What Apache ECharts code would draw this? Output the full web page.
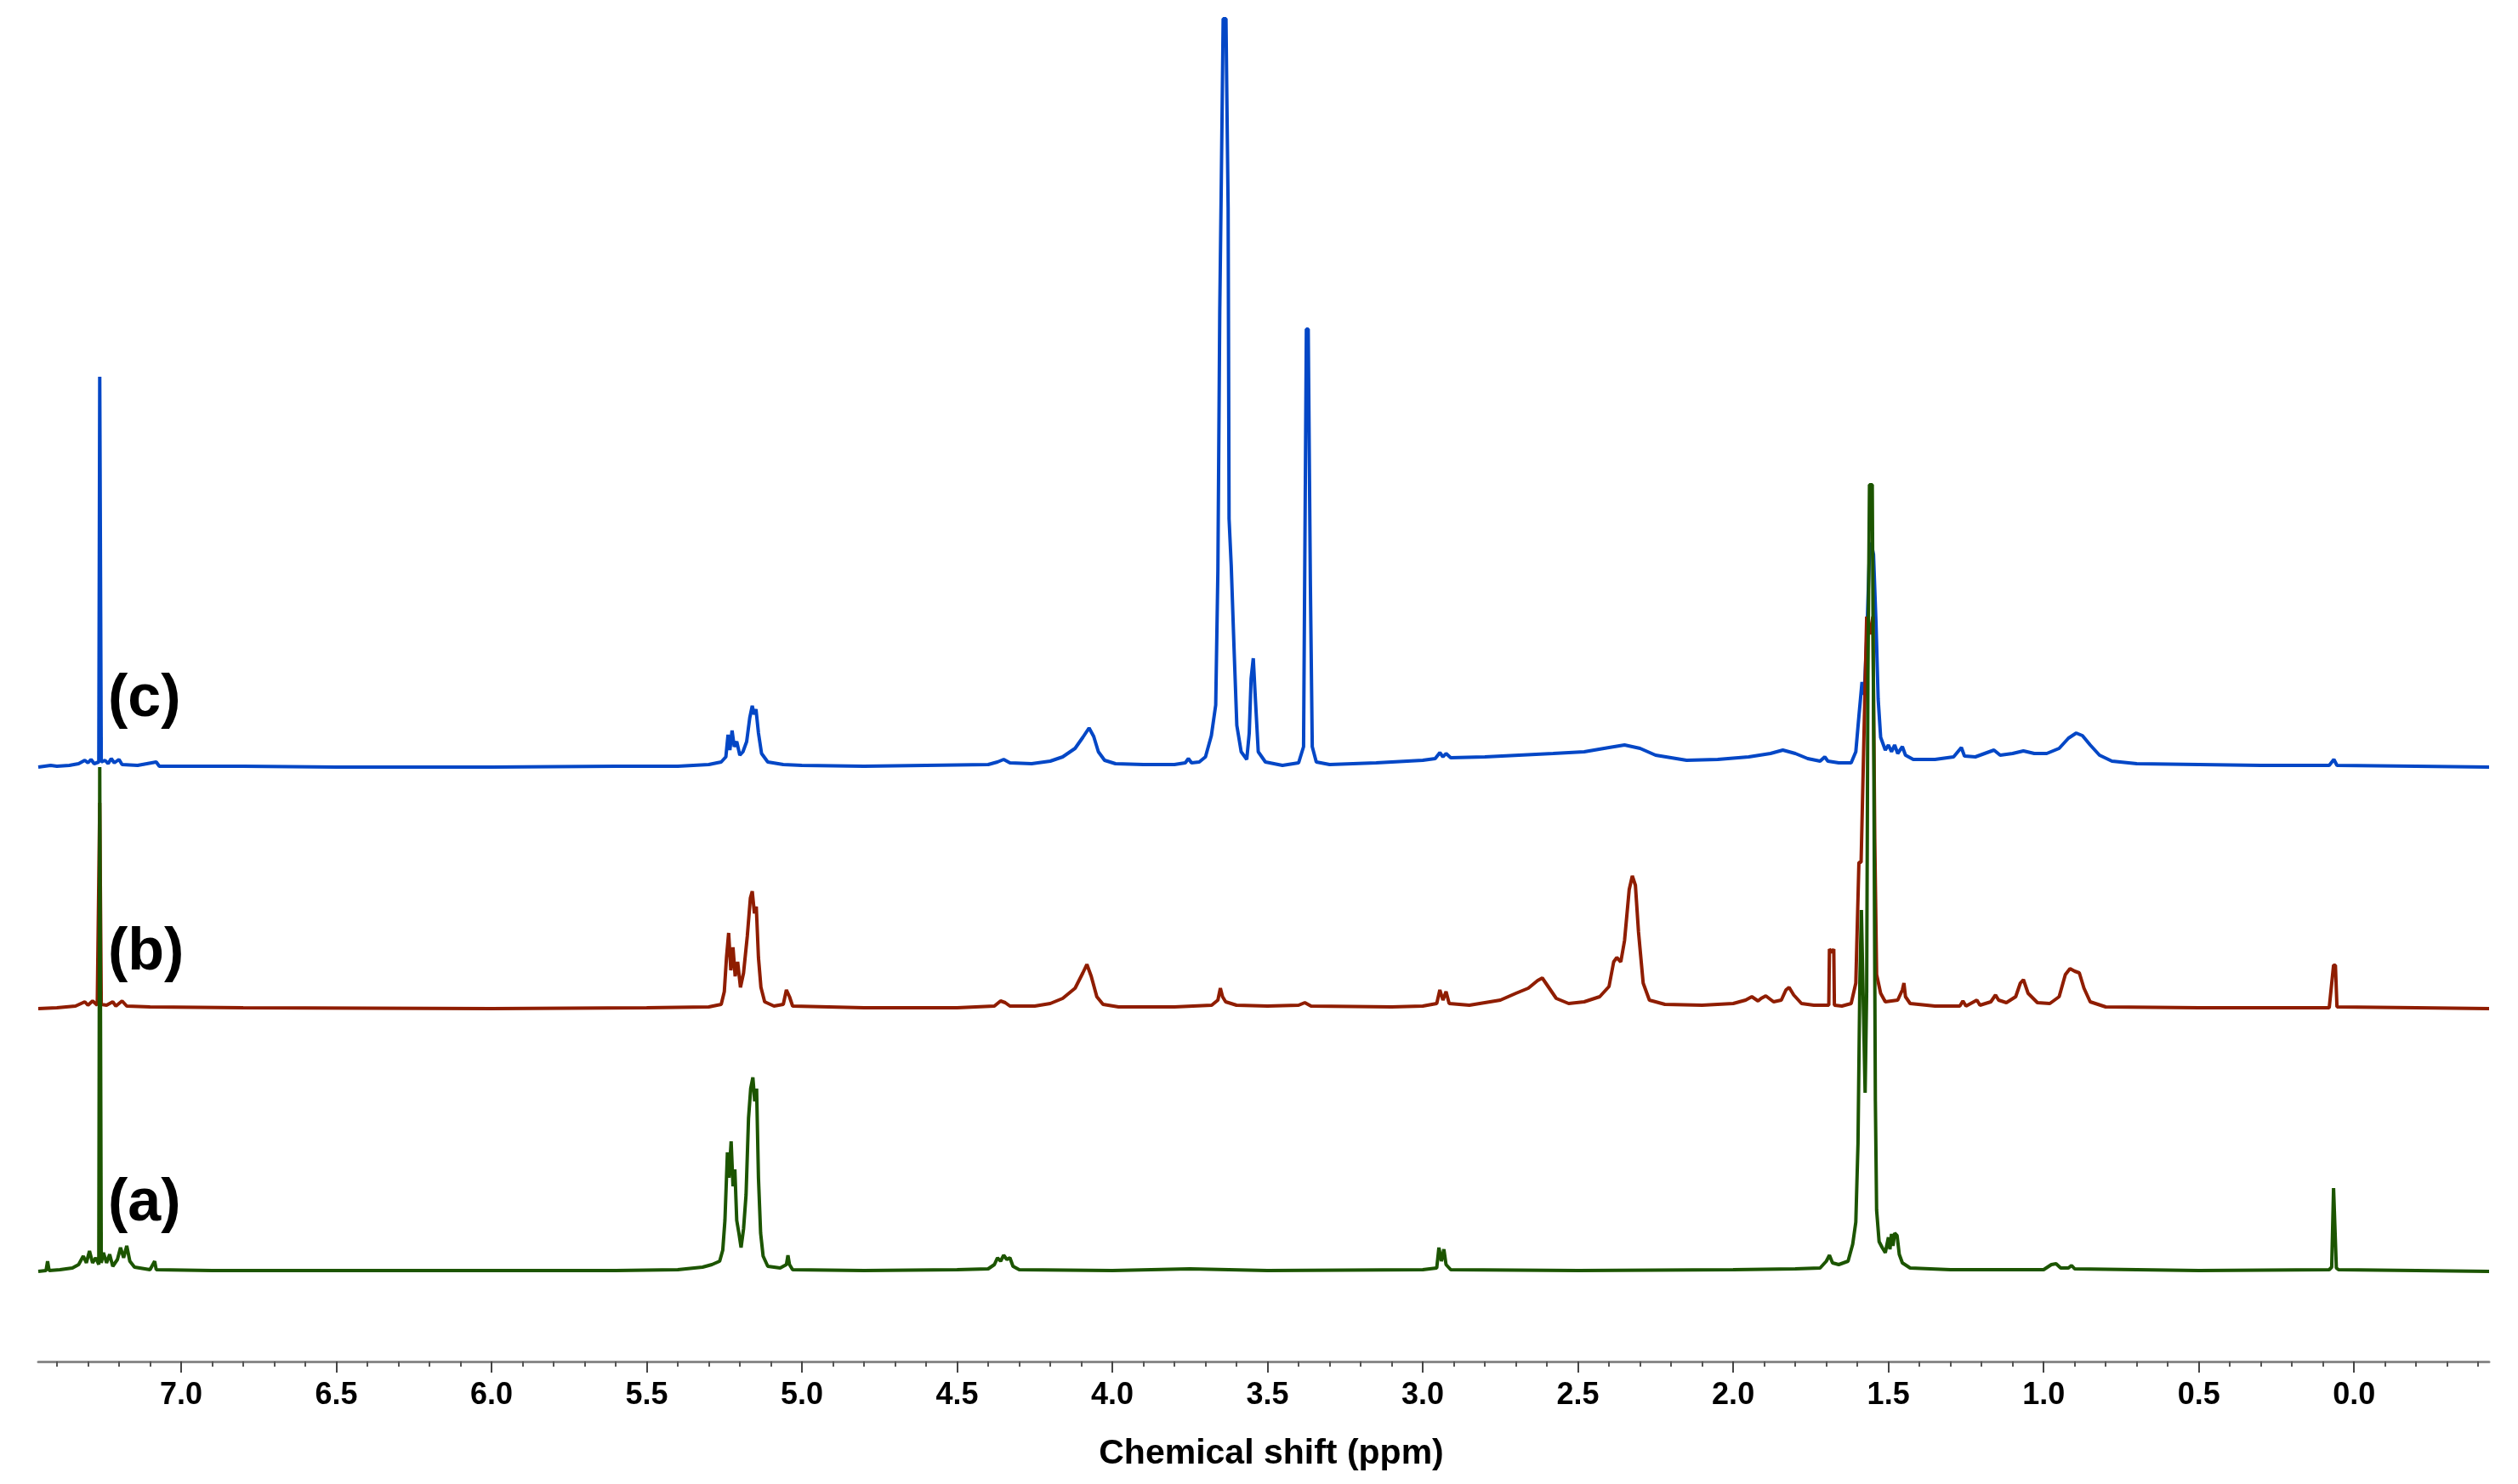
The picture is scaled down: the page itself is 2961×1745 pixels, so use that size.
<!DOCTYPE html>
<html>
<head>
  <meta charset="utf-8">
  <title>1H NMR spectra (a) (b) (c)</title>
  <script src="https://cdn.jsdelivr.net/npm/echarts@6/dist/echarts.min.js"></script>
  <style>
    html, body { margin: 0; padding: 0; background: #fff; }
    #main { width: 2961px; height: 1745px; }
  </style>
</head>
<body>
<div id="main"></div>
<script>
// axis range in ppm (axis is reversed: high ppm on the left)
var ppmLeft = 7.46;
var ppmRight = -0.435;

// major ticks with labels, minor ticks every 0.1 ppm
var majorTicks = [7.0, 6.5, 6.0, 5.5, 5.0, 4.5, 4.0, 3.5, 3.0, 2.5, 2.0, 1.5, 1.0, 0.5, 0.0];
var tickLabels = ['7.0', '6.5', '6.0', '5.5', '5.0', '4.5', '4.0', '3.5', '3.0', '2.5', '2.0', '1.5', '1.0', '0.5', '0.0'];
var minorTicks = [];
for (var k = -4; k <= 74; k++) {
  if (k % 5 !== 0) minorTicks.push(k / 10);
}

// vertical stacking offset of each trace (same units as intensity)
var offsetA = 106;
var offsetB = 415;
var offsetC = 699;

// (c) blue trace: [ppm, intensity]
var traceC = [
  [7.46,0],[7.42,2],[7.40,1],[7.36,2],[7.33,4],[7.31,8],[7.30,5],[7.29,9],[7.28,4],[7.265,6],
  [7.262,459],[7.257,6],[7.245,8],[7.235,4],[7.225,10],[7.215,5],[7.20,9],[7.19,3],[7.14,2],[7.08,6],
  [7.07,1],[6.8,1],[6.5,0],[6.0,0],[5.6,1],[5.4,1],[5.30,3],[5.26,6],[5.245,12],[5.238,38],
  [5.232,20],[5.225,43],[5.218,24],[5.21,30],[5.20,14],[5.19,18],[5.178,30],[5.168,58],[5.16,72],[5.154,62],
  [5.148,68],[5.14,40],[5.13,16],[5.11,6],[5.06,3],[5.0,2],[4.8,1],[4.6,2],[4.40,3],[4.37,6],
  [4.35,9],[4.33,5],[4.26,4],[4.20,7],[4.16,12],[4.12,22],[4.095,35],[4.075,46],[4.06,36],[4.045,18],
  [4.025,8],[3.99,4],[3.90,3],[3.80,3],[3.765,5],[3.755,10],[3.745,5],[3.72,6],[3.70,12],[3.681,37],
  [3.667,73],[3.66,231],[3.654,536],[3.649,688],[3.643,880],[3.634,880],[3.627,658],[3.624,292],[3.617,237],[3.608,140],
  [3.599,49],[3.585,18],[3.567,9],[3.559,40],[3.553,104],[3.546,128],[3.539,79],[3.53,18],[3.507,6],[3.452,2],
  [3.40,5],[3.384,24],[3.375,515],[3.369,515],[3.362,213],[3.356,24],[3.343,6],[3.30,3],[3.15,5],[3.0,8],
  [2.96,10],[2.945,17],[2.935,12],[2.925,16],[2.91,11],[2.80,12],[2.69,14],[2.58,16],[2.48,18],[2.40,23],
  [2.35,26],[2.30,22],[2.25,14],[2.15,8],[2.05,9],[1.95,12],[1.88,16],[1.84,20],[1.80,16],[1.76,10],
  [1.72,7],[1.705,12],[1.695,7],[1.66,5],[1.62,5],[1.605,18],[1.595,60],[1.585,100],[1.578,85],[1.57,150],
  [1.562,240],[1.556,264],[1.548,250],[1.54,170],[1.533,80],[1.525,35],[1.51,20],[1.50,26],[1.49,18],[1.48,26],
  [1.47,16],[1.455,24],[1.445,14],[1.42,9],[1.35,9],[1.29,12],[1.265,23],[1.255,13],[1.22,12],[1.16,20],
  [1.14,14],[1.10,16],[1.065,19],[1.03,16],[0.99,16],[0.95,22],[0.92,34],[0.895,40],[0.875,37],[0.85,26],
  [0.82,14],[0.78,7],[0.70,4],[0.50,3],[0.30,2],[0.08,2],[0.065,9],[0.055,2],[-0.2,1],[-0.435,0]
];

// (b) red trace
var traceB = [
  [7.46,0],[7.40,1],[7.34,3],[7.31,8],[7.30,4],[7.285,9],[7.27,4],[7.262,242],[7.257,5],[7.24,4],
  [7.22,8],[7.21,3],[7.19,9],[7.175,3],[7.10,2],[6.8,1],[6.0,0],[5.5,1],[5.30,2],[5.26,5],
  [5.25,20],[5.243,60],[5.236,89],[5.229,45],[5.222,72],[5.215,38],[5.207,55],[5.198,25],[5.188,42],[5.176,85],
  [5.166,130],[5.16,138],[5.153,112],[5.147,120],[5.14,60],[5.132,25],[5.12,8],[5.09,3],[5.06,5],[5.05,22],
  [5.04,14],[5.03,3],[4.8,1],[4.5,1],[4.38,3],[4.36,9],[4.345,7],[4.33,3],[4.25,3],[4.20,6],
  [4.16,12],[4.12,24],[4.095,42],[4.082,52],[4.068,38],[4.05,14],[4.03,5],[3.98,2],[3.80,2],[3.68,4],
  [3.66,10],[3.652,24],[3.645,14],[3.635,8],[3.60,4],[3.50,3],[3.40,4],[3.38,7],[3.36,3],[3.10,2],
  [3.0,3],[2.955,6],[2.945,22],[2.935,10],[2.925,20],[2.915,6],[2.85,4],[2.75,10],[2.70,18],[2.66,24],
  [2.63,33],[2.615,36],[2.60,28],[2.57,12],[2.53,6],[2.48,8],[2.43,14],[2.40,26],[2.385,55],[2.375,60],
  [2.362,55],[2.35,80],[2.335,140],[2.325,156],[2.315,145],[2.305,90],[2.29,30],[2.27,10],[2.22,5],[2.10,4],
  [2.0,6],[1.96,10],[1.94,14],[1.92,9],[1.91,12],[1.895,15],[1.87,8],[1.845,10],[1.83,22],[1.82,25],
  [1.805,16],[1.78,6],[1.74,4],[1.70,4],[1.692,4],[1.69,70],[1.682,66],[1.676,70],[1.674,4],[1.65,3],
  [1.62,6],[1.605,30],[1.595,172],[1.588,172],[1.58,300],[1.57,461],[1.56,440],[1.55,461],[1.544,200],[1.538,40],
  [1.525,18],[1.51,8],[1.47,10],[1.455,22],[1.45,30],[1.445,14],[1.43,6],[1.35,3],[1.27,3],[1.26,9],
  [1.25,3],[1.215,10],[1.205,4],[1.17,8],[1.155,16],[1.145,10],[1.12,7],[1.09,14],[1.075,30],[1.065,34],
  [1.05,18],[1.02,7],[0.98,6],[0.95,14],[0.93,40],[0.915,47],[0.90,44],[0.885,42],[0.87,24],[0.85,8],
  [0.80,2],[0.5,1],[0.08,1],[0.066,51],[0.06,51],[0.055,2],[-0.2,1],[-0.435,0]
];

// (a) green trace
var traceA = [
  [7.46,0],[7.435,1],[7.43,12],[7.425,1],[7.39,2],[7.35,4],[7.33,8],[7.315,18],[7.305,10],[7.295,24],
  [7.285,10],[7.275,16],[7.265,8],[7.262,593],[7.257,10],[7.25,22],[7.24,10],[7.23,20],[7.22,6],[7.205,14],
  [7.195,28],[7.185,16],[7.175,30],[7.165,12],[7.15,5],[7.10,2],[7.085,12],[7.08,2],[6.9,1],[6.5,1],
  [6.0,1],[5.6,1],[5.40,2],[5.32,5],[5.29,8],[5.265,12],[5.255,25],[5.248,60],[5.24,140],[5.235,110],
  [5.228,153],[5.222,100],[5.216,120],[5.21,60],[5.203,45],[5.196,28],[5.188,50],[5.18,90],[5.172,180],[5.165,215],
  [5.158,228],[5.152,200],[5.146,215],[5.14,110],[5.133,45],[5.125,18],[5.11,6],[5.07,4],[5.05,8],[5.045,19],
  [5.04,8],[5.03,2],[4.8,1],[4.5,2],[4.40,3],[4.38,8],[4.37,16],[4.36,12],[4.35,19],[4.34,14],
  [4.33,16],[4.32,6],[4.30,2],[4.0,1],[3.75,3],[3.5,1],[3.0,2],[2.955,4],[2.948,28],[2.94,12],
  [2.932,26],[2.925,8],[2.91,2],[2.5,1],[2.0,2],[1.80,3],[1.72,4],[1.70,12],[1.69,19],[1.68,10],
  [1.66,8],[1.63,12],[1.615,32],[1.605,58],[1.598,150],[1.592,340],[1.587,425],[1.58,300],[1.575,210],[1.57,330],
  [1.566,700],[1.561,925],[1.552,925],[1.547,600],[1.542,200],[1.538,72],[1.53,35],[1.52,28],[1.51,22],[1.50,40],
  [1.495,26],[1.49,44],[1.485,30],[1.48,45],[1.472,42],[1.465,20],[1.455,10],[1.43,4],[1.30,2],[1.0,2],
  [0.975,8],[0.96,9],[0.945,4],[0.92,4],[0.91,7],[0.90,3],[0.5,1],[0.08,2],[0.072,5],[0.066,98],
  [0.061,98],[0.057,4],[0.05,2],[-0.2,1],[-0.435,0]
];

var traceNames = ['(a)', '(b)', '(c)'];
var traceColors = ['#1c5500', '#8f1d00', '#0447c6'];

function shift(trace, offset) {
  return trace.map(function (p) { return [p[0], p[1] + offset]; });
}

var font = '"Liberation Sans", Arial, sans-serif';
var chart = echarts.init(document.getElementById('main'));

var option = {
  animation: false,
  backgroundColor: '#fff',
  grid: { left: 45, right: 34, top: 0, bottom: 144 },
  xAxis: [
    {
      type: 'value',
      min: ppmRight,
      max: ppmLeft,
      inverse: true,
      name: 'Chemical shift (ppm)',
      nameLocation: 'middle',
      nameGap: 88,
      nameTextStyle: { fontFamily: font, fontWeight: 'bold', fontSize: 41, color: '#000', padding: [0, 0, 0, 18] },
      axisLine: { onZero: false, lineStyle: { color: '#8a8a8a', width: 3 } },
      axisTick: { show: true, customValues: majorTicks, length: 13, lineStyle: { color: '#444', width: 2 } },
      axisLabel: {
        customValues: majorTicks,
        margin: 22,
        fontFamily: font,
        fontWeight: 'bold',
        fontSize: 36,
        color: '#000',
        formatter: function (v) {
          var best = 0;
          for (var i = 0; i < majorTicks.length; i++) {
            if (Math.abs(majorTicks[i] - v) < Math.abs(majorTicks[best] - v)) best = i;
          }
          return tickLabels[best];
        }
      },
      splitLine: { show: false }
    },
    {
      type: 'value',
      min: ppmRight,
      max: ppmLeft,
      inverse: true,
      position: 'bottom',
      axisLine: { show: false, onZero: false },
      axisTick: { show: true, customValues: minorTicks, length: 6, lineStyle: { color: '#555', width: 2 } },
      axisLabel: { show: false },
      splitLine: { show: false }
    }
  ],
  yAxis: { type: 'value', min: 0, max: 1601, show: false },
  series: [
    {
      name: traceNames[2], type: 'line', showSymbol: false, clip: false,
      lineStyle: { color: traceColors[2], width: 4 },
      data: shift(traceC, offsetC)
    },
    {
      name: traceNames[1], type: 'line', showSymbol: false, clip: false,
      lineStyle: { color: traceColors[1], width: 4 },
      data: shift(traceB, offsetB)
    },
    {
      name: traceNames[0], type: 'line', showSymbol: false, clip: false,
      lineStyle: { color: traceColors[0], width: 4 },
      data: shift(traceA, offsetA)
    }
  ],
  graphic: [
    { type: 'text', x: 127, y: 823, z: 100, style: { text: traceNames[2], font: 'bold 70px ' + font, fill: '#000', verticalAlign: 'middle' } },
    { type: 'text', x: 127, y: 1121, z: 100, style: { text: traceNames[1], font: 'bold 70px ' + font, fill: '#000', verticalAlign: 'middle' } },
    { type: 'text', x: 127, y: 1416, z: 100, style: { text: traceNames[0], font: 'bold 70px ' + font, fill: '#000', verticalAlign: 'middle' } }
  ]
};

chart.setOption(option);
</script>
</body>
</html>
